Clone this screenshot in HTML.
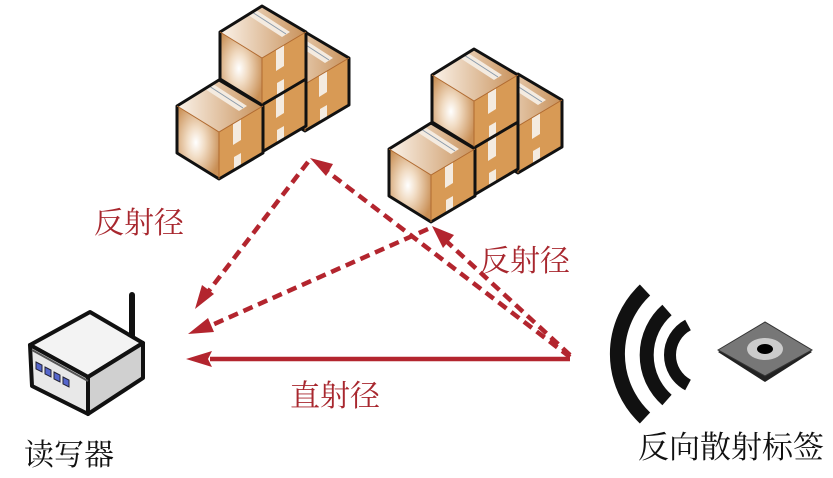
<!DOCTYPE html>
<html><head><meta charset="utf-8"><style>
html,body{margin:0;padding:0;background:#fff;}
svg{display:block;}
text{font-family:"Liberation Serif","Noto Serif CJK SC",serif;}
</style></head><body>
<svg width="833" height="478" viewBox="0 0 833 478" xmlns="http://www.w3.org/2000/svg">
<defs>
<radialGradient id="lf" cx="0.45" cy="0.5" r="0.6">
<stop offset="0" stop-color="#ffffff"/><stop offset="0.35" stop-color="#f1dcc4"/><stop offset="1" stop-color="#c98f55"/>
</radialGradient>
<linearGradient id="tp" x1="0" y1="0" x2="1" y2="0">
<stop offset="0" stop-color="#fbf3ea"/><stop offset="1" stop-color="#c8915a"/>
</linearGradient>
<g id="box">
<polygon points="0,0 -42,26 0,52 44,26" fill="url(#tp)"/>
<polygon points="-42,26 0,52 0,99 -42,73" fill="url(#lf)"/>
<polygon points="0,52 44,26 44,73 0,99" fill="#d89a55"/>
<polygon points="-14,9 -6,4 28,26 20,31" fill="#f4ebe0"/>
<line x1="-10" y1="6" x2="24" y2="28" stroke="#8a9aaa" stroke-width="1"/>
<polygon points="14,44 22,39 22,60 14,65" fill="#f4ebe0"/>
<polygon points="15,77 22,73 22,88 15,92" fill="#f4ebe0"/>
<polygon points="0,0 -42,26 -42,73 0,99 44,73 44,26" fill="none" stroke="#111" stroke-width="3" stroke-linejoin="round"/>
<polyline points="-42,26 0,52 44,26" fill="none" stroke="#b06a30" stroke-width="1"/>
<line x1="0" y1="52" x2="0" y2="99" stroke="#b06a30" stroke-width="1"/>
</g>
</defs>

<use href="#box" x="305" y="32"/>
<use href="#box" x="262" y="53"/>
<use href="#box" x="262" y="6"/>
<use href="#box" x="219" y="80"/>

<use href="#box" x="518" y="74"/>
<use href="#box" x="474" y="96"/>
<use href="#box" x="474" y="49"/>
<use href="#box" x="431" y="123"/>

<g stroke="#b3252e" stroke-width="4.5" fill="none" stroke-linecap="butt">
<line x1="570" y1="359" x2="210" y2="359"/>
<line x1="570" y1="357" x2="328" y2="172" stroke-dasharray="10,6"/>
<line x1="308" y1="162" x2="208" y2="292" stroke-dasharray="10,6"/>
<line x1="570" y1="355" x2="445" y2="240" stroke-dasharray="10,6"/>
<line x1="428" y1="229" x2="212" y2="325" stroke-dasharray="10,6"/>
</g>
<g fill="#b3252e">
<polygon points="186,359 212,351 208,359 212,367"/>
<polygon points="310,158 333,164 326,176"/>
<polygon points="195,309 202,285 214,294"/>
<polygon points="432,226 454,235 443,248"/>
<polygon points="188,334 208,318 214,332"/>
</g>

<!-- reader -->
<line x1="132" y1="295" x2="132" y2="348" stroke="#111" stroke-width="6" stroke-linecap="round"/>
<polygon points="30,345 90,312 143,343 88,377" fill="#f3f3f3" stroke="#111" stroke-width="4" stroke-linejoin="round"/>
<polygon points="30,345 88,377 88,414 32,386" fill="#e8e8e8" stroke="#111" stroke-width="4" stroke-linejoin="round"/>
<polygon points="88,377 143,343 143,378 88,414" fill="#d0d0d0" stroke="#111" stroke-width="4" stroke-linejoin="round"/>
<line x1="32" y1="350" x2="88" y2="381" stroke="#555" stroke-width="2"/>
<g fill="#5566cc" stroke="#223" stroke-width="1">
<polygon points="36,362 42,365 42,372 36,369"/>
<polygon points="45,367 51,370 51,377 45,374"/>
<polygon points="54,372 60,375 60,382 54,379"/>
<polygon points="63,377 69,380 69,387 63,384"/>
</g>

<!-- waves -->
<g fill="none" stroke="#111" stroke-linecap="butt">
<path d="M645,290 A88,88 0 0 0 645,418" stroke-width="15"/>
<path d="M667,310 A60,60 0 0 0 667,400" stroke-width="14"/>
<path d="M688,325 A34,34 0 0 0 688,385" stroke-width="12"/>
</g>

<!-- chip -->
<polygon points="718,352 765,324 812,352 765,382" fill="#222"/>
<polygon points="718,350 765,322 812,350 765,376" fill="#777" stroke="#333" stroke-width="1"/>
<ellipse cx="765" cy="349" rx="18" ry="11" fill="#ccc"/>
<ellipse cx="765" cy="349" rx="8" ry="5" fill="#000"/>

<g fill="#a8272e" font-size="30">
<text x="94" y="233">反射径</text>
<text x="480" y="271">反射径</text>
<text x="290" y="406">直射径</text>
</g>
<g fill="#111" font-size="30">
<text x="24" y="465">读写器</text>
</g>
<g fill="#111" font-size="31">
<text x="638" y="458">反向散射标签</text>
</g>
</svg>
</body></html>
